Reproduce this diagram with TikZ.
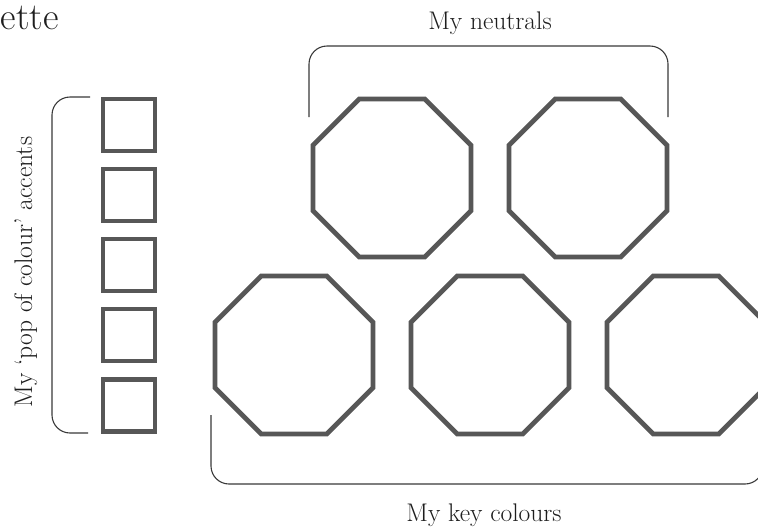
\documentclass[tikz,border=0pt]{standalone}
\usepackage{fontspec}
\setmainfont{Latin Modern Roman}
\usetikzlibrary{shapes.geometric}

\definecolor{shapegray}{HTML}{575757}
\definecolor{bracketgray}{HTML}{3A3A3A}
\definecolor{inkgray}{HTML}{1E1E1E}

\tikzset{
  swatchoct/.style={regular polygon, regular polygon sides=8, minimum size=171pt,
    inner sep=0pt, outer sep=0pt, draw=shapegray, line width=4.8pt},
  swatchsq/.style={rectangle, minimum width=52pt, minimum height=52pt,
    inner sep=0pt, outer sep=0pt, draw=shapegray, line width=4.2pt},
  bracketline/.style={draw=bracketgray, line width=1.1pt, rounded corners=18pt},
  labeltext/.style={inner sep=0pt, text=inkgray, font=\fontsize{25.5}{28}\selectfont},
}

\begin{document}
\begin{tikzpicture}[x=1pt, y=-1pt]
  \clip (0,0) rectangle (758,528);
  \fill[white] (0,0) rectangle (758,528);

  % heading fragment at the top left
  \node[anchor=base west, inner sep=0pt, text=inkgray,
        font=\fontsize{38}{40}\selectfont] (heading) at (0.5,29) {ette};

  % neutrals: two octagons on the top row
  \node[swatchoct] (n1) at (392,178) {};
  \node[swatchoct] (n2) at (588,178) {};

  % key colours: three octagons on the bottom row
  \node[swatchoct] (k1) at (294,355) {};
  \node[swatchoct] (k2) at (490,355) {};
  \node[swatchoct] (k3) at (686,355) {};

  % accent swatches: a column of five squares
  \foreach \i in {0,...,4} {
    \node[swatchsq] (a\i) at (129,{125+70.1*\i}) {};
  }

  % brackets
  \draw[bracketline] (309,117) -- (309,46) -- (668,46) -- (668,117);
  \draw[bracketline] (90,97) -- (52,97) -- (52,433) -- (88,433);
  \draw[bracketline] (211,415) -- (211,484) -- (763,484) -- (763,400);

  % labels
  \node[labeltext, anchor=base] (neutrals) at (490,29) {My neutrals};
  \node[labeltext, anchor=base] (keycols) at (484,521) {My key colours};
  \node[labeltext, anchor=base, rotate=90] (accents) at (32,272)
       {My ‘pop of colour’ accents};
\end{tikzpicture}
\end{document}
